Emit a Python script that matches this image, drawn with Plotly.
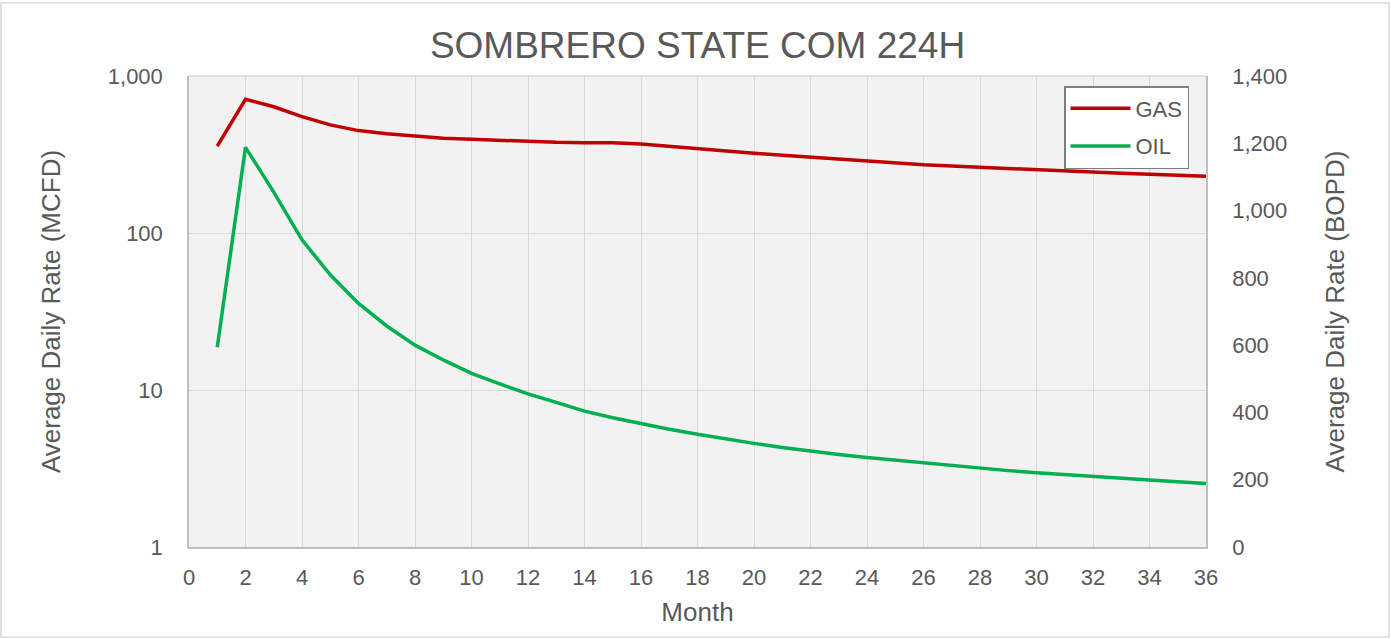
import plotly.graph_objects as go

months = list(range(1, 37))
gas = [358, 711, 637, 551, 488, 449, 428, 413, 401, 395, 389, 382,
       378, 376, 376, 369, 356, 343, 332, 322, 313, 304, 296, 288,
       280, 272, 267, 262, 257, 252, 247, 243, 240, 237, 233, 230]
oil = [594, 1188, 1055, 913, 809, 724, 657, 600, 556, 516, 485, 455,
       430, 404, 384, 366, 350, 335, 321, 308, 296, 285, 275, 266,
       258, 249, 241, 234, 227, 221, 215, 209, 204, 199, 194, 189]

left_ticks = [1, 10, 100, 1000]
left_labels = ["1", "10", "100", "1,000"]
right_ticks = list(range(0, 1401, 200))
x_ticks = list(range(0, 37, 2))

FONT = "Liberation Sans, Arial, sans-serif"
TXT = "#595959"

fig = go.Figure()
fig.add_trace(go.Scatter(x=months, y=gas, name="GAS", mode="lines",
                         line=dict(color="#C00000", width=3.5), legendgroup="g"))
fig.add_trace(go.Scatter(x=months, y=oil, name="OIL", mode="lines", yaxis="y2",
                         line=dict(color="#00B050", width=3.5), legendgroup="o"))

W, H = 1391, 639
L, R, T, B = 189, 185, 76, 92
pw, ph = W - L - R, H - T - B

fig.update_layout(
    width=W, height=H,
    margin=dict(l=L, r=R, t=T, b=B, pad=0),
    paper_bgcolor="white", plot_bgcolor="#F2F2F2",
    font=dict(family=FONT, color=TXT, size=22),
    title=dict(text="SOMBRERO STATE COM 224H", x=0.5, xanchor="center",
               xref="paper", y=1 - 45 / H, yanchor="middle",
               font=dict(size=37, color=TXT, family=FONT)),
    xaxis=dict(range=[0, 36], tickvals=x_ticks, showgrid=True, gridcolor="#D9D9D9",
               gridwidth=1.3, zeroline=False, showline=True, linecolor="#BFBFBF",
               linewidth=1.5, mirror=False, ticks="", ticklabelstandoff=10,
               title=dict(text="Month", font=dict(size=26, color=TXT), standoff=14),
               tickfont=dict(size=22, color=TXT)),
    yaxis=dict(type="log", range=[0, 3], tickvals=left_ticks, ticktext=left_labels,
               showgrid=True, gridcolor="#D9D9D9", gridwidth=1.3, zeroline=False,
               showline=True, linecolor="#BFBFBF", linewidth=1.5, ticks="",
               ticklabelstandoff=20,
               title=dict(text="Average Daily Rate (MCFD)", font=dict(size=26, color=TXT),
                          standoff=40),
               tickfont=dict(size=22, color=TXT)),
    yaxis2=dict(overlaying="y", side="right", range=[0, 1400], tickvals=right_ticks,
                tickformat=",", showgrid=False, zeroline=False, showline=True,
                linecolor="#BFBFBF", linewidth=1.5, ticks="", ticklabelstandoff=20,
                title=dict(text="Average Daily Rate (BOPD)", font=dict(size=26, color=TXT),
                           standoff=40),
                tickfont=dict(size=22, color=TXT)),
    legend=dict(x=(1064 - L) / pw, y=(T + ph - 86) / ph, xanchor="left", yanchor="top",
                bgcolor="white", bordercolor="#7F7F7F", borderwidth=1.5,
                font=dict(size=22, color=TXT, family=FONT), itemwidth=60,
                tracegroupgap=6),
    shapes=[
        dict(type="line", xref="paper", yref="paper", x0=0, x1=1, y0=1, y1=1,
             line=dict(color="#D9D9D9", width=1.5)),
        dict(type="rect", xref="paper", yref="paper",
             x0=(1 - L) / pw, x1=(W - 2 - L) / pw,
             y0=(T + ph - (H - 2)) / ph, y1=(T + ph - 3) / ph,
             line=dict(color="#D9D9D9", width=1.5), layer="below"),
    ],
)

fig.write_html("out.html", config={"displayModeBar": False},
               post_script="document.body.style.margin='0';document.body.style.overflow='hidden';")
